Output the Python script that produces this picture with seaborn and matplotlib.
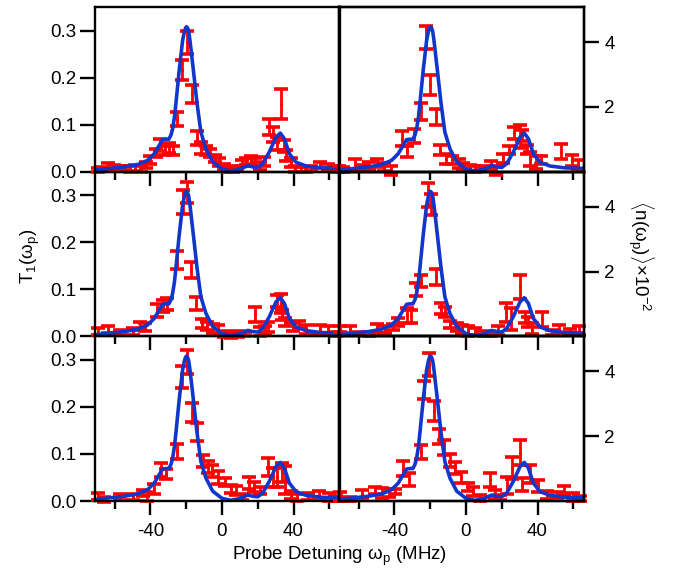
import numpy as np
import pandas as pd
import seaborn as sns
import matplotlib
matplotlib.use("Agg")
import matplotlib.pyplot as plt

# ---------------- data ----------------
fit_x = [-70.5, -62.0, -54.7, -47.2, -41.6, -37.9, -35.1, -33.2, -31.5, -29.7, -28.5, -27.6,
         -26.6, -25.7, -23.9, -22.0, -21.0, -20.3, -19.8, -19.3, -18.6, -17.9, -16.0, -14.0,
         -11.8, -9.0, -5.2, 0.0, 5.0, 9.7, 14.4, 17.5, 20.0, 22.8, 26.5, 30.2, 32.6, 34.9,
         37.7, 41.4, 47.0, 55.4, 65.7]
fit_y = [0.0035, 0.007, 0.010, 0.015, 0.024, 0.038, 0.056, 0.068, 0.069, 0.069, 0.078, 0.091,
         0.115, 0.147, 0.216, 0.279, 0.298, 0.306, 0.308, 0.306, 0.298, 0.279, 0.216, 0.147,
         0.084, 0.049, 0.021, 0.0056, 0.0014, 0.005, 0.0126, 0.010, 0.009, 0.017, 0.042, 0.073,
         0.082, 0.070, 0.038, 0.020, 0.012, 0.008, 0.007]

# top-left
tl_x = [-69.5, -66.5, -63.5, -60.5, -57.5, -54.5, -51.5, -48.5, -45.5, -42.5, -40.0, -37.0,
        -34.5, -32.0, -29.5, -27.5, -25.2, -22.3, -19.8, -16.5, -14.0, -11.5, -9.0, -6.5,
        -4.0, -1.5, 1.0, 3.5, 6.0, 8.5, 11.0, 13.5, 16.0, 18.5, 21.0, 23.5, 26.5, 28.5,
        31.0, 33.0, 34.5, 36.0, 38.5, 41.0, 44.0, 47.0, 50.0, 55.0, 59.5, 63.5]
tl_y = [0.004, 0.006, 0.012, 0.010, 0.008, 0.008, 0.006, 0.008, 0.006, 0.014, 0.025, 0.040,
        0.057, 0.045, 0.050, 0.045, 0.112, 0.216, 0.275, 0.165, 0.071, 0.050, 0.045, 0.040,
        0.028, 0.020, 0.010, 0.005, 0.004, 0.006, 0.018, 0.022, 0.025, 0.020, 0.012, 0.022,
        0.094, 0.078, 0.060, 0.144, 0.055, 0.035, 0.020, 0.005, 0.004, 0.004, 0.006, 0.014,
        0.010, 0.006]
tl_e = [0.004, 0.004, 0.006, 0.005, 0.005, 0.005, 0.006, 0.006, 0.006, 0.007, 0.008, 0.009,
        0.013, 0.009, 0.010, 0.009, 0.015, 0.021, 0.024, 0.020, 0.015, 0.012, 0.010, 0.009,
        0.008, 0.008, 0.006, 0.005, 0.005, 0.005, 0.007, 0.008, 0.009, 0.008, 0.008, 0.010,
        0.017, 0.016, 0.014, 0.032, 0.013, 0.012, 0.010, 0.006, 0.005, 0.005, 0.005, 0.007,
        0.007, 0.006]

# middle-left
ml_x = [-69.5, -63.5, -57.0, -50.0, -46.0, -43.0, -36.4, -33.0, -30.5, -25.2, -22.0, -19.8,
        -17.4, -14.6, -11.0, -8.5, -5.0, -2.0, 1.0, 5.0, 9.0, 13.0, 18.5, 21.0, 24.0, 26.0,
        30.6, 33.0, 33.5, 35.5, 39.5, 43.0, 47.0, 55.0, 59.5, 64.0]
ml_y = [0.010, 0.015, 0.008, 0.010, 0.022, 0.020, 0.055, 0.065, 0.068, 0.162, 0.285, 0.305,
        0.141, 0.069, 0.027, 0.022, 0.017, 0.015, 0.005, 0.003, 0.005, 0.005, 0.047, 0.010,
        0.012, 0.020, 0.075, 0.070, 0.045, 0.030, 0.020, 0.025, 0.015, 0.015, 0.012, 0.005]
ml_e = [0.008, 0.008, 0.006, 0.008, 0.009, 0.008, 0.014, 0.013, 0.013, 0.019, 0.025, 0.022,
        0.018, 0.014, 0.010, 0.009, 0.009, 0.009, 0.006, 0.006, 0.006, 0.005, 0.016, 0.009,
        0.010, 0.011, 0.013, 0.021, 0.011, 0.009, 0.009, 0.008, 0.009, 0.009, 0.009, 0.004]

# bottom-left
bl_x = [-69.5, -66.0, -57.0, -50.0, -44.0, -42.0, -38.0, -34.0, -31.5, -25.4, -22.6, -19.8,
        -17.0, -14.2, -10.5, -8.0, -5.5, -2.0, 1.5, 5.0, 8.0, 11.0, 15.0, 18.0, 21.0, 26.0,
        28.5, 31.0, 33.5, 35.5, 38.5, 42.0, 48.0, 54.0, 60.0, 64.0]
bl_y = [0.010, 0.003, 0.008, 0.008, 0.017, 0.010, 0.025, 0.066, 0.058, 0.106, 0.264, 0.295,
        0.188, 0.146, 0.085, 0.072, 0.063, 0.050, 0.040, 0.025, 0.022, 0.008, 0.038, 0.030,
        0.022, 0.073, 0.050, 0.050, 0.060, 0.045, 0.013, 0.007, 0.010, 0.012, 0.009, 0.005]
bl_e = [0.007, 0.005, 0.006, 0.006, 0.007, 0.009, 0.011, 0.015, 0.011, 0.016, 0.023, 0.026,
        0.020, 0.019, 0.013, 0.012, 0.013, 0.013, 0.009, 0.009, 0.009, 0.006, 0.013, 0.011,
        0.008, 0.019, 0.021, 0.021, 0.020, 0.030, 0.009, 0.007, 0.007, 0.009, 0.009, 0.005]

# top-right
tr_x = [-71.0, -68.5, -62.0, -57.5, -54.0, -50.0, -46.0, -42.0, -36.0, -33.0, -29.0, -25.0,
        -22.1, -20.0, -16.9, -14.5, -11.0, -8.0, -4.0, -1.5, 2.0, 5.0, 10.0, 14.0, 17.0,
        20.5, 24.0, 27.0, 30.0, 31.5, 34.0, 36.0, 39.0, 42.0, 53.0, 59.5, 62.5]
tr_y = [0.005, 0.004, 0.015, 0.008, 0.012, 0.018, 0.010, 0.002, 0.070, 0.043, 0.075, 0.128,
        0.285, 0.184, 0.117, 0.046, 0.027, 0.025, 0.017, 0.012, 0.008, 0.005, 0.008, 0.014,
        0.003, 0.028, 0.046, 0.082, 0.075, 0.077, 0.047, 0.027, 0.020, 0.025, 0.042, 0.024,
        0.015]
tr_e = [0.006, 0.005, 0.012, 0.007, 0.008, 0.008, 0.008, 0.009, 0.016, 0.012, 0.015, 0.018,
        0.025, 0.021, 0.017, 0.010, 0.010, 0.008, 0.010, 0.006, 0.006, 0.006, 0.004, 0.008,
        0.010, 0.009, 0.009, 0.012, 0.025, 0.012, 0.009, 0.014, 0.014, 0.008, 0.016, 0.012,
        0.009]

# middle-right
mr_x = [-70.5, -65.0, -60.0, -54.0, -50.0, -45.0, -41.0, -38.0, -33.0, -31.0, -28.0, -25.0,
        -21.5, -19.8, -17.0, -14.0, -11.5, -9.0, -5.0, -2.0, 1.0, 5.0, 10.0, 14.0, 18.0,
        22.5, 25.0, 30.4, 33.0, 34.5, 37.0, 42.5, 48.0, 52.0, 58.0, 63.0]
mr_y = [0.015, 0.015, 0.006, 0.005, 0.017, 0.014, 0.020, 0.030, 0.045, 0.043, 0.100, 0.117,
        0.300, 0.280, 0.126, 0.059, 0.052, 0.025, 0.020, 0.015, 0.012, 0.010, 0.006, 0.005,
        0.012, 0.050, 0.037, 0.105, 0.040, 0.030, 0.016, 0.036, 0.008, 0.016, 0.010, 0.012]
mr_e = [0.006, 0.008, 0.004, 0.005, 0.009, 0.007, 0.007, 0.008, 0.016, 0.014, 0.014, 0.013,
        0.025, 0.023, 0.017, 0.011, 0.011, 0.007, 0.009, 0.009, 0.011, 0.007, 0.005, 0.004,
        0.009, 0.020, 0.023, 0.025, 0.011, 0.011, 0.012, 0.016, 0.005, 0.009, 0.006, 0.009]

# bottom-right
br_x = [-70.5, -65.0, -58.0, -51.0, -47.0, -43.0, -39.5, -35.0, -32.0, -25.4, -23.4, -20.5,
        -17.8, -15.0, -12.5, -9.0, -6.0, -3.0, 1.0, 4.0, 8.0, 13.2, 16.0, 19.0, 23.0, 26.0,
        30.0, 31.5, 36.0, 40.0, 45.5, 51.0, 55.0, 60.0, 64.0]
br_y = [0.010, 0.005, 0.015, 0.022, 0.017, 0.017, 0.020, 0.069, 0.046, 0.105, 0.236, 0.290,
        0.191, 0.137, 0.113, 0.086, 0.070, 0.050, 0.030, 0.020, 0.007, 0.044, 0.014, 0.008,
        0.033, 0.070, 0.103, 0.035, 0.058, 0.032, 0.013, 0.013, 0.022, 0.009, 0.005]
br_e = [0.010, 0.004, 0.008, 0.008, 0.010, 0.008, 0.005, 0.015, 0.014, 0.015, 0.020, 0.025,
        0.021, 0.016, 0.016, 0.014, 0.013, 0.011, 0.009, 0.009, 0.006, 0.015, 0.009, 0.005,
        0.018, 0.023, 0.027, 0.013, 0.019, 0.013, 0.009, 0.007, 0.009, 0.009, 0.005]

panels = [
    [(tl_x, tl_y, tl_e), (tr_x, tr_y, tr_e)],
    [(ml_x, ml_y, ml_e), (mr_x, mr_y, mr_e)],
    [(bl_x, bl_y, bl_e), (br_x, br_y, br_e)],
]

x_major = [-40, 0, 40]
x_minor = [-60, -20, 20, 60]
left_ticks = [0.0, 0.1, 0.2, 0.3]
left_labels = ["0.0", "0.1", "0.2", "0.3"]
right_ticks = [2, 4]
right_labels = ["2", "4"]

# ---------------- style ----------------
sns.set_style("ticks")
plt.rcParams["font.family"] = ["Liberation Sans", "DejaVu Sans"]
plt.rcParams["mathtext.fontset"] = "custom"
plt.rcParams["mathtext.rm"] = "Liberation Sans"
plt.rcParams["mathtext.it"] = "Liberation Sans"
plt.rcParams["mathtext.bf"] = "Liberation Sans:bold"
plt.rcParams["axes.unicode_minus"] = False
for k in ["text.color", "axes.labelcolor", "xtick.color", "ytick.color", "axes.edgecolor"]:
    plt.rcParams[k] = "black"

FS = 13.5
RED = "#ff0000"
BLUE = "#1136cc"
LW_SPINE = 1.7

fig = plt.figure(figsize=(6.74, 5.69), dpi=100)

col_left = [95 / 674, 339 / 674]
col_w = 245 / 674
row_h = (501 - 7) / 3 / 569
row_bottom = [1 - 7 / 569 - row_h * (i + 1) for i in range(3)]

fit_df = pd.DataFrame({"x": fit_x, "y": fit_y})

for r in range(3):
    for c in range(2):
        ax = fig.add_axes([col_left[c], row_bottom[r], col_w, row_h])
        ax.patch.set_visible(False)
        xs, ys, es = panels[r][c]
        ax.errorbar(xs, ys, yerr=es, fmt=".", color=RED, ecolor=RED, markersize=2.5,
                    elinewidth=2.0, capsize=5.0, capthick=2.6, clip_on=False, zorder=2)
        sns.lineplot(data=fit_df, x="x", y="y", ax=ax, color=BLUE, linewidth=2.6,
                     zorder=3, sort=False)
        ax.set_xlim(-71, 66)
        ax.set_ylim(0, 0.35)
        ax.set_xlabel("")
        ax.set_ylabel("")
        for s in ax.spines.values():
            s.set_visible(True)
            s.set_linewidth(LW_SPINE)
            s.set_color("black")
            s.set_zorder(5)
        ax.set_xticks(x_major)
        ax.set_xticks(x_minor, minor=True)
        ax.tick_params(axis="x", which="major", direction="out", length=10, width=1.7,
                       labelsize=FS, top=False, bottom=True, pad=6,
                       labelbottom=(r == 2), colors="black")
        ax.tick_params(axis="x", which="minor", direction="out", length=5.5, width=1.7,
                       top=False, bottom=True, colors="black")
        if c == 0:
            ax.set_yticks(left_ticks)
            ax.set_yticklabels(left_labels)
            ax.tick_params(axis="y", direction="out", length=10.5, width=1.7,
                           labelsize=FS, left=True, right=False, pad=3, colors="black")
        else:
            ax.set_yticks([])
            ax2 = ax.twinx()
            ax2.patch.set_visible(False)
            ax2.set_ylim(0, 5.08)
            ax2.set_yticks(right_ticks)
            ax2.set_yticklabels(right_labels)
            ax2.tick_params(axis="y", direction="out", length=10.5, width=1.7,
                            labelsize=FS, right=True, left=False, pad=4, colors="black")
            for s in ax2.spines.values():
                s.set_linewidth(LW_SPINE)
                s.set_color("black")

fig.text(30 / 674, 1 - 256 / 569, r"T$_1$($\omega_p$)", rotation=90, ha="center",
         va="center", fontsize=FS)
fig.text(641 / 674, 1 - 256 / 569, r"$\langle$n($\omega_p$)$\rangle$×10$^{-2}$",
         rotation=270, ha="center", va="center", fontsize=FS)
fig.text(340 / 674, 1 - 560 / 569, r"Probe Detuning $\omega_p$ (MHz)", ha="center",
         va="baseline", fontsize=FS)

fig.savefig("out.png", dpi=100)
